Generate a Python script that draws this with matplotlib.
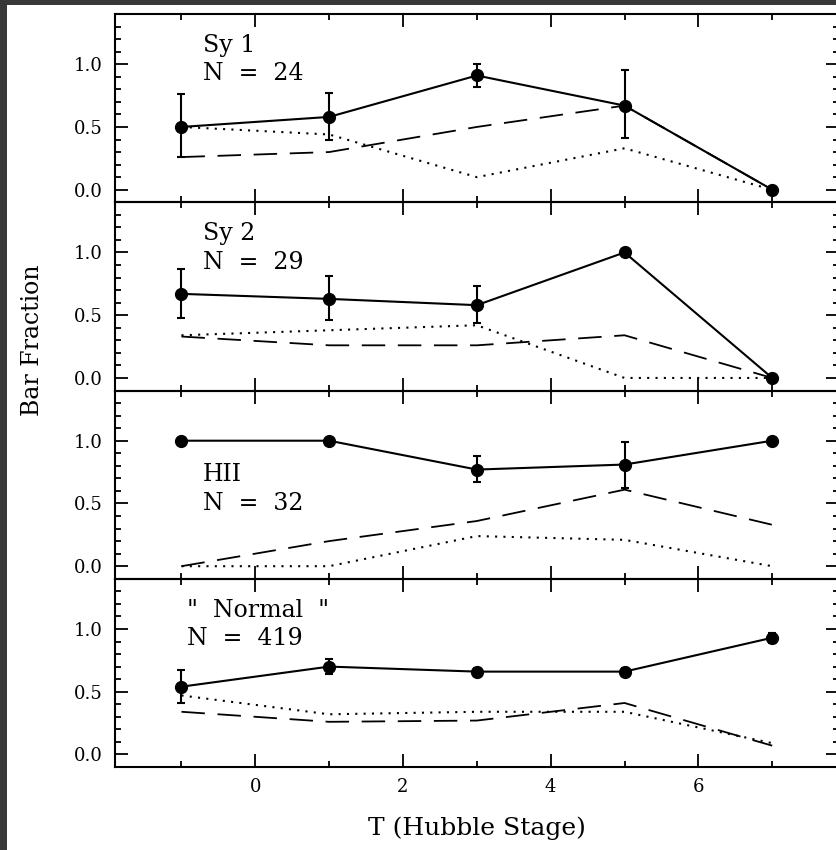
# Bar fraction vs Hubble stage for four activity classes
import matplotlib
matplotlib.use("Agg")
import matplotlib.pyplot as plt
from matplotlib.ticker import MultipleLocator, NullFormatter
from matplotlib.patches import Rectangle

plt.rcParams['font.family'] = ['DejaVu Serif']

T = [-1, 1, 3, 5, 7]

labels = ["Sy 1\nN  =  24", "Sy 2\nN  =  29", "HII\nN  =  32", "\"  Normal  \"\nN  =  419"]
label_x = [-0.71, -0.71, -0.71, -0.92]
label_y = [1.24, 1.24, 0.82, 1.24]

# total bar fraction (solid, with errors)
total = [
    [0.50, 0.58, 0.91, 0.67, 0.00],
    [0.67, 0.63, 0.58, 1.00, 0.00],
    [1.00, 1.00, 0.77, 0.81, 1.00],
    [0.54, 0.70, 0.66, 0.66, 0.93],
]
err_lo = [
    [0.24, 0.18, 0.09, 0.26, 0.0],
    [0.19, 0.17, 0.14, 0.0, 0.0],
    [0.0, 0.0, 0.10, 0.19, 0.0],
    [0.13, 0.06, 0.03, 0.03, 0.04],
]
err_hi = [
    [0.26, 0.19, 0.09, 0.28, 0.0],
    [0.20, 0.18, 0.15, 0.0, 0.0],
    [0.0, 0.0, 0.11, 0.18, 0.0],
    [0.13, 0.06, 0.03, 0.03, 0.04],
]
# dashed and dotted components
dashed = [
    [0.26, 0.30, 0.50, 0.67, 0.00],
    [0.33, 0.26, 0.26, 0.34, 0.00],
    [0.00, 0.20, 0.36, 0.61, 0.33],
    [0.34, 0.26, 0.27, 0.41, 0.07],
]
dotted = [
    [0.50, 0.44, 0.10, 0.33, 0.00],
    [0.34, 0.38, 0.42, 0.00, 0.00],
    [0.00, 0.00, 0.24, 0.21, 0.00],
    [0.47, 0.32, 0.34, 0.34, 0.09],
]

fig = plt.figure(figsize=(8.37, 8.5), dpi=100)
fig.patch.set_facecolor('#383838')
fig.patches.append(Rectangle((7 / 837, 0), 1, 1 - 5 / 850, transform=fig.transFigure,
                             facecolor='white', edgecolor='none', zorder=-10))

left, right = 115 / 837, 1.002
top, bottom = 1 - 14 / 850, 1 - 767 / 850
h = (top - bottom) / 4

for i in range(4):
    ax = fig.add_axes([left, top - (i + 1) * h, right - left, h])
    ax.set_facecolor('none')
    ax.plot(T, dashed[i], color='black', lw=1.3, dashes=(13, 7), zorder=2)
    ax.plot(T, dotted[i], color='black', lw=1.5, linestyle=(0, (1, 3)), zorder=2)
    ax.errorbar(T, total[i], yerr=[err_lo[i], err_hi[i]], color='black', lw=1.5,
                marker='o', markersize=8.5, elinewidth=1.5, capsize=3, capthick=1.5, zorder=3)
    ax.text(label_x[i], label_y[i], labels[i], fontsize=17, va='top', ha='left',
            linespacing=1.3)

    ax.set_xlim(-1.9, 7.9)
    ax.set_ylim(-0.1, 1.4)
    ax.xaxis.set_major_locator(MultipleLocator(2))
    ax.xaxis.set_minor_locator(MultipleLocator(1))
    ax.yaxis.set_major_locator(MultipleLocator(0.5))
    ax.yaxis.set_minor_locator(MultipleLocator(0.1))
    ax.tick_params(which='both', direction='in', top=True, right=True, width=1.3)
    ax.tick_params(which='major', length=9.5, labelsize=13)
    ax.tick_params(which='minor', length=4.5)
    ax.tick_params(axis='y', pad=9)
    ax.set_yticks([0.0, 0.5, 1.0])
    ax.set_yticklabels(['0.0', '0.5', '1.0'])
    for s in ax.spines.values():
        s.set_linewidth(1.5)
    if i < 3:
        ax.xaxis.set_major_formatter(NullFormatter())
    else:
        ax.tick_params(axis='x', pad=8)
        ax.set_xlabel("T (Hubble Stage)", fontsize=18, labelpad=15)

fig.text(33 / 837, 1 - 340 / 850, "Bar Fraction", rotation=90, fontsize=17,
         ha='center', va='center')

fig.savefig("out.png", dpi=100, facecolor=fig.get_facecolor())
